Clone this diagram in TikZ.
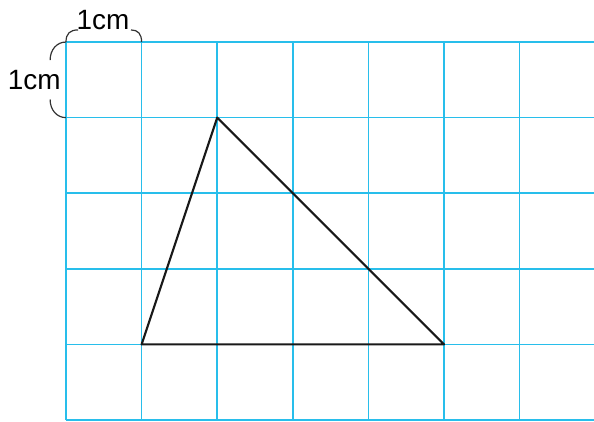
\documentclass[tikz,border=0pt]{standalone}
\usepackage{fontspec}
\setmainfont{Liberation Sans}
\usepackage{xcolor}
\definecolor{gridcyan}{RGB}{40,190,235}
\usetikzlibrary{positioning}
\tikzset{
    gridline/.style  = {draw=gridcyan, line width=0.55pt},
    shapeline/.style = {draw=black!90, line width=0.8pt, line join=round},
    bracearc/.style  = {draw=black!80, line width=0.45pt},
    unitlabel/.style = {font=\fontsize{10.5}{12}\selectfont, inner sep=1pt}
}
\begin{document}
\begin{tikzpicture}[x=1cm, y=1cm]

% ===== Frame =====
\useasboundingbox (-0.873,-0.013) rectangle (6.984,5.556);

% ===== Grid =====
\foreach \gx in {0,...,6} {
  \draw[gridline] (\gx,0) -- (\gx,5);
}
\foreach \gy in {0,...,5} {
  \draw[gridline] (0,\gy) -- (6.984,\gy);
}

% ===== Triangle =====
\coordinate (ptA) at (1,1);
\coordinate (ptB) at (2,4);
\coordinate (ptC) at (5,1);
\draw[shapeline] (ptA) -- (ptB) -- (ptC) -- cycle;

% ===== Unit labels =====
\node[unitlabel] (topcm) at (0.49,5.29) {1cm};
\node[unitlabel] (leftcm) at (-0.42,4.5) {1cm};

\coordinate (tl) at (0,5);
\coordinate (tr) at (1,5);
\coordinate (bl) at (0,4);
\draw[bracearc] (tl) .. controls (0,5.11) and (0.05,5.16) .. (0.16,5.16);
\draw[bracearc] (tr) .. controls (1,5.11) and (0.95,5.16) .. (0.86,5.16);
\draw[bracearc] (tl) .. controls (-0.12,5) and (-0.21,4.9) .. (-0.21,4.76);
\draw[bracearc] (bl) .. controls (-0.12,4) and (-0.21,4.1) .. (-0.21,4.24);

\end{tikzpicture}
\end{document}
